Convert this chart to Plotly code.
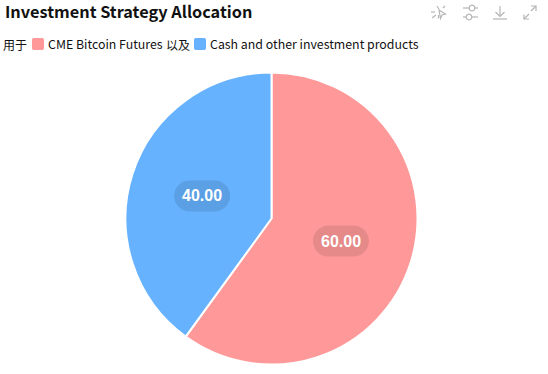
import math
import plotly.graph_objects as go

categories = ["CME Bitcoin Futures", "Cash and other investment products"]
values = [60.0, 40.0]
colors = ["#FF9999", "#66B2FF"]
title_text = "Investment Strategy Allocation"
legend_prefix = "用于"
legend_joiner = "以及"

W, H = 548, 374
FONT = "Noto Sans CJK SC, Noto Sans, sans-serif"
cx, cy, R = 271.5, 218.5, 146


def px(x):
    return x / W


def py(y):
    return 1 - y / H


def P(points, close=False):
    s = ""
    for i, (x, y) in enumerate(points):
        s += ("M" if i == 0 else "L") + f"{px(x):.5f},{py(y):.5f} "
    return s + ("Z" if close else "")


def rounded(x0, y0, x1, y1, r, n=8):
    pts = []
    corners = [(x1 - r, y0 + r, -90), (x1 - r, y1 - r, 0), (x0 + r, y1 - r, 90), (x0 + r, y0 + r, 180)]
    for ccx, ccy, a in corners:
        for k in range(n + 1):
            t = math.radians(a + 90 * k / n)
            pts.append((ccx + r * math.cos(t), ccy + r * math.sin(t)))
    return P(pts, True)


def circle(x, y, r):
    return rounded(x - r, y - r, x + r, y + r, r)


fig = go.Figure(go.Pie(
    labels=categories, values=values, sort=False, direction="clockwise", rotation=0,
    marker=dict(colors=colors, line=dict(color="white", width=2)),
    textinfo="none", hoverinfo="label+value", showlegend=False,
    domain=dict(x=[px(cx - R), px(cx + R)], y=[py(cy + R), py(cy - R)]),
))

shapes, annos = [], []


def text(x, y, s, size=12, color="#111", anchor="left", bold=False, family=FONT):
    annos.append(dict(x=px(x), y=py(y), xref="paper", yref="paper", text=f"<b>{s}</b>" if bold else s,
                      showarrow=False, xanchor=anchor, yanchor="middle", borderpad=0, borderwidth=0,
                      font=dict(size=size, color=color, family=family)))


text(5, 11, title_text, size=16.3, color="#111", bold=True)
text(3, 44, legend_prefix, size=12)
shapes.append(dict(type="path", path=rounded(32, 38, 44, 50, 2), xref="paper", yref="paper",
                   fillcolor=colors[0], line_width=0))
text(47.5, 44, categories[0], size=12.35)
text(166, 44, legend_joiner, size=12)
shapes.append(dict(type="path", path=rounded(194, 38, 206, 50, 2), xref="paper", yref="paper",
                   fillcolor=colors[1], line_width=0))
text(209.5, 44, categories[1], size=12.35)

# value labels centred on each slice's mid-angle, at half the radius
total = sum(values)
cum = 0
for v in values:
    mid = (cum + v / 2) / total * 2 * math.pi
    cum += v
    lx = cx + 0.5 * R * math.sin(mid)
    ly = cy - 0.5 * R * math.cos(mid)
    shapes.append(dict(type="path", path=rounded(lx - 28, ly - 15.5, lx + 28, ly + 15.5, 15.5),
                       xref="paper", yref="paper", fillcolor="rgba(0,0,0,0.1)", line_width=0))
    text(lx, ly, f"{v:.2f}", size=16, color="white", anchor="center", bold=True, family="Liberation Sans")

# toolbox icons
ic = "#B5B5B5"
paths = [
    # magic-select
    P([(437, 6), (439, 9)]), P([(445, 6), (443, 8)]), P([(431, 12), (435, 12)]),
    P([(432, 18), (436, 15)]), P([(438.5, 18.5), (438.5, 15)]),
    P([(439, 10), (445.5, 14), (442, 15), (440.5, 18.5)], True),
    # sliders
    P([(463, 8), (469, 8)]), P([(475, 8), (478, 8)]), circle(472, 8, 2.8),
    P([(463, 17), (466, 17)]), P([(472, 17), (478, 17)]), circle(469, 17, 2.8),
    # download
    P([(500, 6), (500, 16)]), P([(495.5, 12), (500, 16.5), (504.5, 12)]), P([(493, 19), (507, 19)]),
    # fullscreen
    P([(524, 19), (529, 14)]), P([(524, 14.5), (524, 19), (529, 19)]),
    P([(531, 11), (536, 6)]), P([(531, 6), (536, 6), (536, 11)]),
]
for p in paths:
    shapes.append(dict(type="path", path=p, xref="paper", yref="paper", line=dict(color=ic, width=1.2),
                       fillcolor="rgba(0,0,0,0)"))

fig.update_layout(width=W, height=H, margin=dict(l=0, r=0, t=0, b=0), paper_bgcolor="white",
                  shapes=shapes, annotations=annos, showlegend=False)
fig.write_html("out.html", config={"displayModeBar": False},
               post_script="document.body.style.margin='0';document.documentElement.style.overflow='hidden';")
